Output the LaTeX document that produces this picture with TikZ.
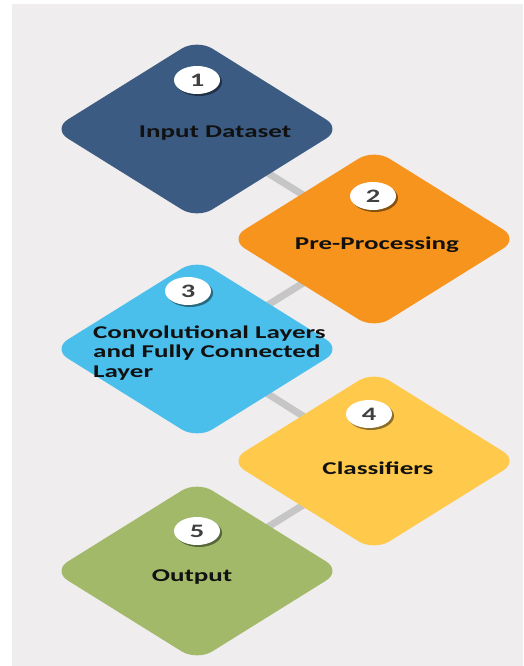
\documentclass[tikz,border=0pt]{standalone}
\usepackage{fontspec}
\usepackage{graphicx}
\setmainfont{Carlito}
\usetikzlibrary{shapes.geometric,shadows}
\pgfdeclarelayer{bg}
\pgfdeclarelayer{links}
\pgfsetlayers{bg,links,main}
\definecolor{pagegray}{HTML}{EFEDEE}
\definecolor{linkgray}{HTML}{C6C6C6}
\definecolor{stepnavy}{HTML}{3B5B82}
\definecolor{steporange}{HTML}{F7941E}
\definecolor{stepsky}{HTML}{4BBFEC}
\definecolor{stepyellow}{HTML}{FFC94B}
\definecolor{stepolive}{HTML}{A2B96A}
\definecolor{digitgray}{HTML}{404040}
\definecolor{labelblack}{HTML}{111111}
% wide lettering
\newcommand\widetext[1]{\scalebox{1.5}[1]{#1}}
\begin{document}
\begin{tikzpicture}[x=1pt,y=-1pt,
  stage/.style={diamond, minimum width=289pt, minimum height=180pt,
    inner sep=0pt, rounded corners=18pt, fill=#1},
  badge/.style={ellipse, fill=white, minimum width=46pt, minimum height=28pt,
    inner sep=0pt, drop shadow={shadow xshift=2pt, shadow yshift=-2pt,
    opacity=0.45, fill=black},
    font=\bfseries\fontsize{19}{19}\selectfont, text=digitgray},
  lbl/.style={inner sep=0pt, font=\bfseries\fontsize{18}{19.5}\selectfont,
    text=labelblack},
  link/.style={draw=linkgray, line width=7pt}]
  \useasboundingbox (0,0) rectangle (523,666);
  \begin{pgfonlayer}{bg}
    \fill[white] (0,0) rectangle (523,666);
    \fill[pagegray] (12,4) rectangle (523,666);
  \end{pgfonlayer}

  % the five stages
  \node[stage=stepnavy]   (d1) at (197,129) {};
  \node[stage=steporange] (d2) at (374,239) {};
  \node[stage=stepsky]    (d3) at (197,349) {};
  \node[stage=stepyellow] (d4) at (374,461) {};
  \node[stage=stepolive]  (d5) at (197,571) {};

  % links between consecutive stages
  \begin{pgfonlayer}{links}
    \draw[link] (d1.center) -- (d2.center);
    \draw[link] (d2.center) -- (d3.center);
    \draw[link] (d3.center) -- (d4.center);
    \draw[link] (d4.center) -- (d5.center);
  \end{pgfonlayer}

  % step numbers
  \node[badge] (n1) at (197,80)  {\widetext{1}};
  \node[badge] (n2) at (373,196) {\widetext{2}};
  \node[badge] (n3) at (188,291) {\widetext{3}};
  \node[badge] (n4) at (369,414) {\widetext{4}};
  \node[badge] (n5) at (197,531) {\widetext{5}};

  % stage labels
  \node[lbl] (t1) at (215,133) {\widetext{Input Dataset}};
  \node[lbl] (t2) at (377,245) {\widetext{Pre-Processing}};
  \node[lbl, anchor=west] (t3) at (93,354)
    {\widetext{\begin{tabular}{@{}l@{}}Convolutional Layers\\and Fully Connected\\Layer\end{tabular}}};
  \node[lbl] (t4) at (378,468) {\widetext{Classifiers}};
  \node[lbl] (t5) at (192,577) {\widetext{Output}};
\end{tikzpicture}
\end{document}
